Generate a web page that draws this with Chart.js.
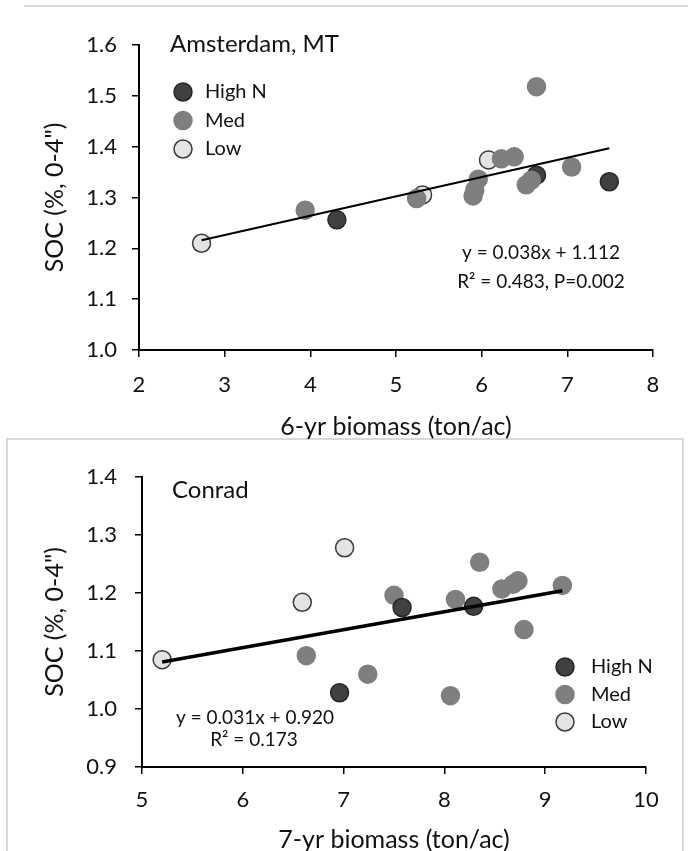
<!DOCTYPE html>
<html>
<head>
<meta charset="utf-8">
<script src="https://cdn.jsdelivr.net/npm/chart.js@4.4.1/dist/chart.umd.min.js"></script>
<style>
    body { margin: 0; background: #fff; width: 688px; height: 851px; overflow: hidden; position: relative; }
    #topLine { position: absolute; left: 24px; top: 5px; width: 664px; border-top: 2px solid #d9d9d9; }
    #box { position: absolute; left: 6px; top: 438px; width: 674px; height: 430px; border: 2px solid #d9d9d9; }
    canvas { position: absolute; left: 0; }
    #amsterdam { top: 0; }
    #conrad { top: 439px; }
</style>
</head>
<body>
<div id="topLine"></div>
<div id="box"></div>
<canvas id="amsterdam" width="688" height="439"></canvas>
<canvas id="conrad" width="688" height="420"></canvas>
<script>
// Amsterdam, MT : 6-yr biomass (ton/ac) vs SOC (%)
const amsHighX = [4.31, 6.64, 7.49];
const amsHighY = [1.256, 1.344, 1.331];
const amsMedX = [3.94, 5.24, 5.90, 5.92, 5.96, 6.23, 6.38, 6.52, 6.58, 6.64, 7.05];
const amsMedY = [1.275, 1.298, 1.303, 1.315, 1.336, 1.376, 1.380, 1.325, 1.334, 1.518, 1.360];
const amsLowX = [2.73, 5.31, 6.08];
const amsLowY = [1.210, 1.305, 1.374];
const amsTrendX = [2.73, 7.49];
const amsTrendY = [1.216, 1.397];
const amsXTicks = [2, 3, 4, 5, 6, 7, 8];
const amsYTicks = [1.0, 1.1, 1.2, 1.3, 1.4, 1.5, 1.6];

// Conrad : 7-yr biomass (ton/ac) vs SOC (%)
const conHighX = [6.96, 7.58, 8.29];
const conHighY = [1.028, 1.175, 1.177];
const conMedX = [6.63, 7.24, 7.50, 8.06, 8.11, 8.35, 8.57, 8.68, 8.73, 8.79, 9.17];
const conMedY = [1.092, 1.060, 1.196, 1.023, 1.189, 1.253, 1.207, 1.215, 1.221, 1.137, 1.213];
const conLowX = [5.20, 6.59, 7.01];
const conLowY = [1.085, 1.184, 1.278];
const conTrendX = [5.20, 9.17];
const conTrendY = [1.081, 1.204];
const conXTicks = [5, 6, 7, 8, 9, 10];
const conYTicks = [0.9, 1.0, 1.1, 1.2, 1.3, 1.4];

const FONT = 'Lato';
const INK = '#111';

function pts(xs, ys) {
    return xs.map((x, i) => ({ x: x, y: ys[i] }));
}

/* dibuja titulo, ecuacion y leyenda dentro del area */
const notes = {
    id: 'notes',
    afterDatasetsDraw(chart, args, opts) {
        const ctx = chart.ctx;
        ctx.save();
        ctx.textBaseline = 'middle';
        opts.texts.forEach(t => {
            ctx.font = t.size + 'px ' + FONT;
            ctx.textAlign = t.align || 'left';
            ctx.fillStyle = INK;
            ctx.fillText(t.text, t.x, t.y);
        });
        const lg = opts.legend;
        ctx.font = lg.size + 'px ' + FONT;
        ctx.textAlign = 'left';
        chart.data.datasets.filter(d => d.inLegend).forEach((d, i) => {
            const y = lg.y + i * lg.gap;
            ctx.beginPath();
            ctx.arc(lg.x, y, d.pointRadius, 0, Math.PI * 2);
            ctx.fillStyle = d.backgroundColor;
            ctx.fill();
            ctx.lineWidth = d.borderWidth;
            ctx.strokeStyle = d.borderColor;
            ctx.stroke();
            ctx.fillStyle = INK;
            ctx.fillText(d.label, lg.textX, y);
        });
        ctx.restore();
    }
};

function pointSet(label, data, fill, edge, order) {
    return {
        label: label, data: data, inLegend: true, order: order,
        backgroundColor: fill, borderColor: edge, borderWidth: 1.5,
        pointRadius: 9, pointHoverRadius: 9
    };
}

function makeChart(id, c) {
    const datasets = [
        pointSet('High N', c.high, '#404040', '#262626', c.orders[0]),
        pointSet('Med', c.med, '#7f7f7f', '#7f7f7f', c.orders[1]),
        pointSet('Low', c.low, '#e4e4e4', '#3a3a3a', c.orders[2])
    ].concat(c.trend);

    return new Chart(document.getElementById(id), {
        type: 'scatter',
        data: { datasets: datasets },
        options: {
            responsive: false,
            animation: false,
            layout: { padding: c.pad },
            plugins: {
                legend: { display: false },
                tooltip: { enabled: false },
                notes: { texts: c.texts, legend: c.legend }
            },
            scales: {
                x: {
                    type: 'linear', min: c.xTicks[0], max: c.xTicks[c.xTicks.length - 1],
                    afterBuildTicks: s => { s.ticks = c.xTicks.map(v => ({ value: v })); },
                    ticks: { font: { family: FONT, size: 22 }, color: INK, padding: c.xTickPad, callback: v => v },
                    grid: { drawOnChartArea: false, tickLength: 7, color: '#000', lineWidth: 1.5 },
                    border: { color: '#000', width: 2 },
                    title: { display: true, text: c.xTitle, color: INK, font: { family: FONT, size: 25, lineHeight: 1 }, padding: { top: 0, bottom: c.xTitlePad } },
                    afterFit: s => { s.height = c.xHeight; }
                },
                y: {
                    type: 'linear', min: c.yTicks[0], max: c.yTicks[c.yTicks.length - 1],
                    afterBuildTicks: s => { s.ticks = c.yTicks.map(v => ({ value: v })); },
                    ticks: { font: { family: FONT, size: 22 }, color: INK, padding: c.yTickPad, callback: v => v.toFixed(1) },
                    grid: { drawOnChartArea: false, tickLength: 7, color: '#000', lineWidth: 1.5 },
                    border: { color: '#000', width: 2 },
                    title: { display: true, text: 'SOC (%, 0-4")', color: INK, font: { family: FONT, size: 25, lineHeight: 1 }, padding: { top: 42, bottom: 0 } },
                    afterFit: s => { s.width = c.yWidth; }
                }
            }
        },
        plugins: [notes]
    });
}

makeChart('amsterdam', {
    high: pts(amsHighX, amsHighY),
    med: pts(amsMedX, amsMedY),
    low: pts(amsLowX, amsLowY),
    orders: [2, 1, 3],
    trend: [{
        type: 'line', data: pts(amsTrendX, amsTrendY), order: 0,
        borderColor: '#000', borderWidth: 2, pointRadius: 0, fill: false
    }],
    xTicks: amsXTicks, yTicks: amsYTicks,
    xTitle: '6-yr biomass (ton/ac)',
    pad: { left: 0, right: 35, top: 45, bottom: 0 },
    xHeight: 89, yWidth: 139, xTickPad: 15, yTickPad: 15, xTitlePad: 0,
    texts: [
        { text: 'Amsterdam, MT', x: 170, y: 44, size: 24 },
        { text: 'y = 0.038x + 1.112', x: 541, y: 253, size: 19, align: 'center' },
        { text: 'R² = 0.483, P=0.002', x: 541, y: 282, size: 19, align: 'center' }
    ],
    legend: { x: 183, y: 92, gap: 28.5, textX: 205, size: 20 }
});

makeChart('conrad', {
    high: pts(conHighX, conHighY),
    med: pts(conMedX, conMedY),
    low: pts(conLowX, conLowY),
    orders: [1, 2, 3],
    trend: [{
        type: 'line', data: pts(conTrendX, conTrendY), order: 0,
        borderColor: '#000', borderWidth: 3.5, pointRadius: 0, fill: false
    }, {
        type: 'line', data: pts(conTrendX, conTrendY), order: 0,
        borderColor: '#d6d6d6', borderWidth: 1.4, borderDash: [2, 3], pointRadius: 0, fill: false
    }],
    xTicks: conXTicks, yTicks: conYTicks,
    xTitle: '7-yr biomass (ton/ac)',
    pad: { left: 0, right: 42, top: 38, bottom: 0 },
    xHeight: 92, yWidth: 142, xTickPad: 13, yTickPad: 18, xTitlePad: 7,
    texts: [
        { text: 'Conrad', x: 172, y: 51, size: 24 },
        { text: 'y = 0.031x + 0.920', x: 255, y: 279, size: 19, align: 'center' },
        { text: 'R² = 0.173', x: 254, y: 301, size: 19, align: 'center' }
    ],
    legend: { x: 565, y: 228, gap: 27.5, textX: 591, size: 20 }
});
</script>
</body>
</html>
